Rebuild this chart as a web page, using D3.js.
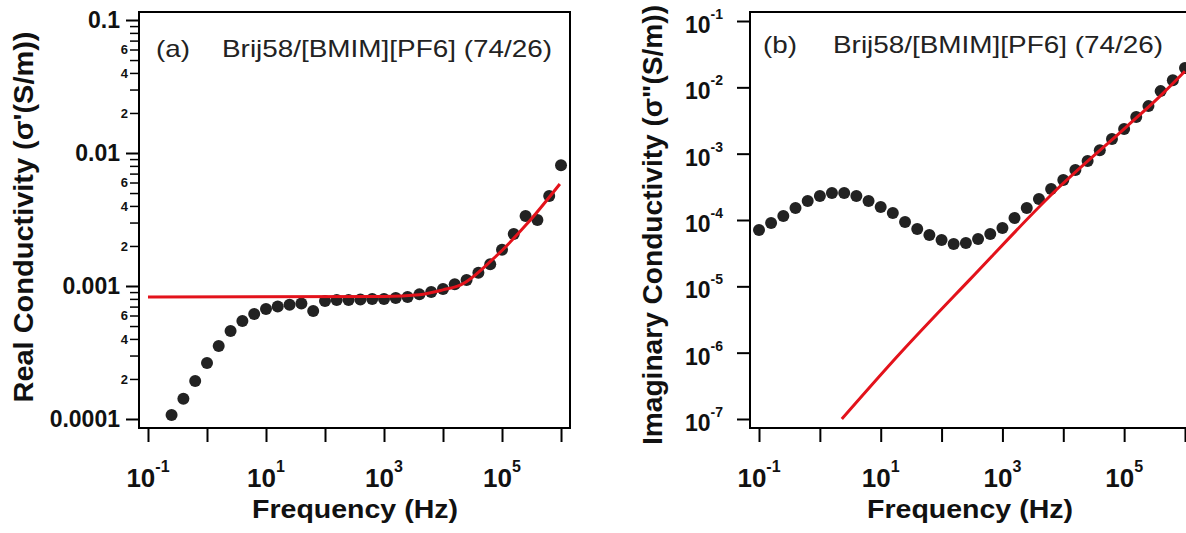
<!DOCTYPE html>
<html>
<head>
<meta charset="utf-8">
<script src="https://cdn.jsdelivr.net/npm/d3@7"></script>
<style>
  body { margin: 0; background: #fff; }
  svg { display: block; }
</style>
</head>
<body>
<script>
"use strict";

// ---- data ----
// (a) real part
const freqA = [0.251, 0.398, 0.631, 1, 1.58, 2.51, 3.98, 6.31, 10, 15.8, 25.1, 39.8, 63.1,
  100, 158, 251, 398, 631, 1000, 1580, 2510, 3980, 6310, 1e4, 1.58e4, 2.51e4, 3.98e4, 6.31e4,
  1e5, 1.58e5, 2.51e5, 3.98e5, 6.31e5, 1e6];
const realSigma = [1.07e-4, 1.42e-4, 1.93e-4, 2.64e-4, 3.54e-4, 4.59e-4, 5.46e-4, 6.16e-4, 6.71e-4,
  7.0e-4, 7.23e-4, 7.4e-4, 6.49e-4, 7.71e-4, 7.85e-4, 7.85e-4, 7.9e-4, 7.99e-4, 8.0e-4, 8.12e-4,
  8.27e-4, 8.65e-4, 9.01e-4, 9.5e-4, 1.03e-3, 1.11e-3, 1.26e-3, 1.46e-3, 1.87e-3, 2.46e-3,
  3.36e-3, 3.13e-3, 4.75e-3, 8.1e-3];
const fitFreqA = [0.1, 1000, 3980, 1e4, 2e4, 7.08e4, 2.63e5, 9.55e5];
const fitRealSigma = [8.26e-4, 8.35e-4, 8.6e-4, 9.35e-4, 1.02e-3, 1.6e-3, 2.92e-3, 5.85e-3];

// (b) imaginary part
const freqB = [0.1, 0.158, 0.251, 0.398, 0.631, 1, 1.58, 2.51, 3.98, 6.31, 10, 15.8, 25.1, 39.8,
  63.1, 100, 158, 251, 398, 631, 1000, 1580, 2510, 3980, 6310, 1e4, 1.58e4, 2.51e4, 3.98e4,
  6.31e4, 1e5, 1.58e5, 2.51e5, 3.98e5, 6.31e5, 1e6];
const imagSigma = [7.06e-5, 9.0e-5, 1.15e-4, 1.52e-4, 1.93e-4, 2.30e-4, 2.55e-4, 2.55e-4, 2.30e-4,
  1.93e-4, 1.57e-4, 1.27e-4, 9.33e-5, 7.31e-5, 5.94e-5, 5.0e-5, 4.35e-5, 4.51e-5, 5.18e-5,
  6.15e-5, 7.58e-5, 1.07e-4, 1.52e-4, 2.07e-4, 2.93e-4, 4.0e-4, 5.66e-4, 7.74e-4, 1.13e-3,
  1.66e-3, 2.35e-3, 3.56e-3, 5.21e-3, 8.77e-3, 1.28e-2, 1.95e-2];
const fitFreqB = [2.3, 20.5, 288, 8590, 1.08e5, 3.75e5, 1e6];
const fitImagSigma = [1.0e-7, 9.6e-7, 1.25e-5, 3.14e-4, 2.52e-3, 7.11e-3, 1.75e-2];

// ticks / labels
const xDecades = [0.1, 1, 10, 100, 1000, 1e4, 1e5, 1e6];
const xLabelExps = ["-1", "1", "3", "5"];
const yMajorA = [1e-4, 1e-3, 1e-2, 1e-1];
const yLabelsA = ["0.0001", "0.001", "0.01", "0.1"];
const yMinorMantissas = [2, 3, 4, 5, 6, 7, 8, 9];
const yMinorLabelled = [2, 4, 6];
const yExpsB = ["-1", "-2", "-3", "-4", "-5", "-6", "-7"];
const sampleName = "Brij58/[BMIM][PF6] (74/26)";

const FONT = "'Liberation Sans', Arial, Helvetica, sans-serif";
const DOT = "#222";
const RED = "#e3121b";

const svg = d3.select("body").append("svg")
  .attr("width", 1186)
  .attr("height", 533)
  .attr("font-family", FONT);

function drawPanel(p) {
  var x = d3.scaleLog().domain(p.xDomain).range([p.left, p.right]);
  var y = d3.scaleLog().domain(p.yDomain).range([p.bottom, p.top]);
  var g = svg.append("g");

  // x axis: tick at every decade, label on odd exponents
  var xg = g.append("g")
    .attr("transform", "translate(0," + p.bottom + ")")
    .call(d3.axisBottom(x).tickValues(xDecades).tickSize(14).tickSizeOuter(0).tickFormat(""));
  xg.select(".domain").remove();
  xg.selectAll(".tick line").attr("stroke", "#000").attr("stroke-width", 2);

  xLabelExps.forEach(function(e) {
    var t = g.append("text")
      .attr("x", x(Math.pow(10, +e)))
      .attr("y", 487)
      .attr("text-anchor", "middle")
      .attr("font-weight", "bold")
      .attr("fill", "#111");
    t.append("tspan").attr("font-size", 26).text("10");
    t.append("tspan").attr("font-size", 16).attr("dy", -15).text(e);
  });

  if (p.kind === "a") {
    var yg = g.append("g")
      .attr("transform", "translate(" + p.left + ",0)")
      .call(d3.axisLeft(y).tickValues(yMajorA).tickSize(13).tickSizeOuter(0).tickPadding(6)
        .tickFormat(function(d, i) { return yLabelsA[i]; }));
    yg.select(".domain").remove();
    yg.attr("font-family", FONT).attr("font-size", 23).attr("font-weight", "bold");
    yg.selectAll(".tick line").attr("stroke", "#000").attr("stroke-width", 2);
    yg.selectAll(".tick text").attr("fill", "#111");

    var minors = [];
    yMajorA.slice(0, 3).forEach(function(dec) {
      yMinorMantissas.forEach(function(m) { minors.push({ v: dec * m, m: m }); });
    });
    var mg = g.append("g")
      .attr("transform", "translate(" + p.left + ",0)")
      .call(d3.axisLeft(y).tickValues(minors.map(function(d) { return d.v; }))
        .tickSize(9).tickSizeOuter(0).tickPadding(2)
        .tickFormat(function(d, i) {
          return yMinorLabelled.indexOf(minors[i].m) >= 0 ? String(minors[i].m) : "";
        }));
    mg.select(".domain").remove();
    mg.attr("font-family", FONT).attr("font-size", 13).attr("font-weight", "bold");
    mg.selectAll(".tick line").attr("stroke", "#000").attr("stroke-width", 1.5);
    mg.selectAll(".tick text").attr("fill", "#111");
  } else {
    var vals = yExpsB.map(function(e) { return Math.pow(10, +e); });
    var yg2 = g.append("g")
      .attr("transform", "translate(" + p.left + ",0)")
      .call(d3.axisLeft(y).tickValues(vals).tickSize(13).tickSizeOuter(0).tickFormat(""));
    yg2.select(".domain").remove();
    yg2.selectAll(".tick line").attr("stroke", "#000").attr("stroke-width", 2);
    yExpsB.forEach(function(e) {
      var yy = y(Math.pow(10, +e));
      var t = g.append("text")
        .attr("x", p.left - 27)
        .attr("y", yy + 12)
        .attr("text-anchor", "end")
        .attr("font-weight", "bold")
        .attr("fill", "#111");
      t.append("tspan").attr("font-size", 23).text("10");
      t.append("tspan").attr("font-size", 14).attr("dy", -14).text(e);
    });
  }

  // frame
  g.append("rect")
    .attr("x", p.left).attr("y", p.top)
    .attr("width", p.right - p.left).attr("height", p.bottom - p.top)
    .attr("fill", "none").attr("stroke", "#000").attr("stroke-width", 2);

  // data points
  g.append("g").selectAll("circle")
    .data(p.freq.map(function(f, i) { return { f: f, v: p.sigma[i] }; }))
    .join("circle")
    .attr("cx", function(d) { return x(d.f); })
    .attr("cy", function(d) { return y(d.v); })
    .attr("r", 6)
    .attr("fill", DOT);

  // fit curve
  var line = d3.line()
    .x(function(d) { return x(d.f); })
    .y(function(d) { return y(d.v); })
    .curve(d3.curveMonotoneX);
  g.append("path")
    .datum(p.fitFreq.map(function(f, i) { return { f: f, v: p.fitSigma[i] }; }))
    .attr("d", line)
    .attr("fill", "none")
    .attr("stroke", RED)
    .attr("stroke-width", 3);

  // annotations
  g.append("text")
    .attr("x", p.tagX).attr("y", p.tagY)
    .attr("font-size", 24).attr("fill", "#222")
    .attr("textLength", 34).attr("lengthAdjust", "spacingAndGlyphs")
    .text(p.tag);
  g.append("text")
    .attr("x", p.nameX).attr("y", p.tagY)
    .attr("font-size", 24).attr("fill", "#222")
    .attr("textLength", 330).attr("lengthAdjust", "spacingAndGlyphs")
    .text(sampleName);

  // axis titles
  g.append("text")
    .attr("x", p.xTitleX).attr("y", 518)
    .attr("text-anchor", "middle")
    .attr("font-size", 26).attr("font-weight", "bold").attr("fill", "#111")
    .attr("textLength", 206).attr("lengthAdjust", "spacingAndGlyphs")
    .text("Frequency (Hz)");
  g.append("text")
    .attr("transform", "translate(" + p.yTitleX + "," + p.yTitleY + ") rotate(-90)")
    .attr("text-anchor", "middle")
    .attr("font-size", 27).attr("font-weight", "bold").attr("fill", "#111")
    .attr("textLength", p.yTitleLen).attr("lengthAdjust", "spacingAndGlyphs")
    .text(p.yTitle);
}

drawPanel({
  kind: "a",
  left: 139, right: 570, top: 12, bottom: 428,
  xDomain: [0.0704, 1.42e6],
  yDomain: [8.556e-5, 0.11487],
  freq: freqA, sigma: realSigma,
  fitFreq: fitFreqA, fitSigma: fitRealSigma,
  tag: "(a)", tagX: 156, tagY: 57, nameX: 222,
  xTitleX: 355,
  yTitle: "Real Conductivity (\u03C3'(S/m))", yTitleX: 33, yTitleY: 217, yTitleLen: 371
});

drawPanel({
  kind: "b",
  left: 750, right: 1194, top: 12, bottom: 428,
  xDomain: [0.07112, 1.406e6],
  yDomain: [7.315e-8, 0.1367],
  freq: freqB, sigma: imagSigma,
  fitFreq: fitFreqB, fitSigma: fitImagSigma,
  tag: "(b)", tagX: 763, tagY: 53, nameX: 833,
  xTitleX: 970,
  yTitle: "Imaginary Conductivity (\u03C3\"(S/m))", yTitleX: 662, yTitleY: 225, yTitleLen: 440
});
</script>
</body>
</html>
